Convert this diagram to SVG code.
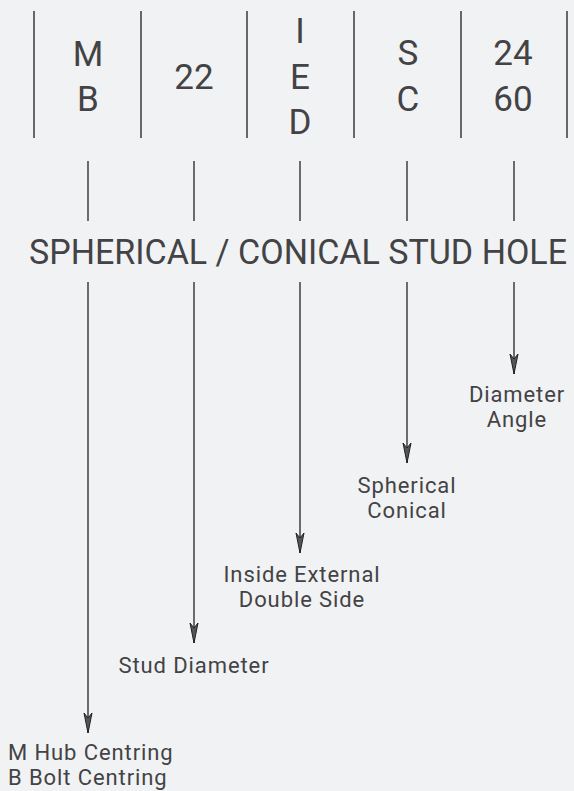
<svg xmlns="http://www.w3.org/2000/svg" width="574" height="791" viewBox="0 0 574 791">
<style>
.t{font-family:Roboto,"DejaVu Sans",sans-serif;fill:#434345;text-anchor:middle}
.big{font-size:35px}
.lab{font-size:22px;letter-spacing:0.9px}
.head{font-size:35px}
.div{stroke:#444;stroke-width:1.6}
.ln{stroke:#333;stroke-width:1.4;fill:none}
</style>
<defs>
<marker id="arr" viewBox="0 0 22 10" refX="21" refY="5" markerWidth="22" markerHeight="10" markerUnits="userSpaceOnUse" orient="auto">
<path d="M1,1 L21,5 L1,9 L6,5 Z" fill="#555" stroke="#222" stroke-width="1"/>
</marker>
</defs>
<rect width="574" height="791" fill="#f1f2f4"/>
<g id="dividers">
<line class="div" x1="34" y1="11" x2="34" y2="138"/>
<line class="div" x1="141" y1="11" x2="141" y2="138"/>
<line class="div" x1="247" y1="11" x2="247" y2="138"/>
<line class="div" x1="354" y1="11" x2="354" y2="138"/>
<line class="div" x1="461" y1="11" x2="461" y2="138"/>
<line class="div" x1="567" y1="11" x2="567" y2="138"/>
</g>
<g id="code-MB"><text class="t big" x="88" y="66">M</text><text class="t big" x="88" y="111">B</text></g>
<g id="code-22"><text class="t big" x="194" y="89">22</text></g>
<g id="code-IED"><text class="t big" x="300" y="43">I</text><text class="t big" x="300" y="89">E</text><text class="t big" x="300" y="134">D</text></g>
<g id="code-SC"><text class="t big" x="408" y="65">S</text><text class="t big" x="408" y="111">C</text></g>
<g id="code-2460"><text class="t big" x="513" y="65">24</text><text class="t big" x="513" y="111">60</text></g>
<g id="title"><text class="t head" x="298" y="264" textLength="538" lengthAdjust="spacingAndGlyphs">SPHERICAL / CONICAL STUD HOLE</text></g>
<g id="connectors">
<line class="ln" x1="88" y1="161" x2="88" y2="221"/>
<line class="ln" x1="194" y1="161" x2="194" y2="221"/>
<line class="ln" x1="300" y1="161" x2="300" y2="221"/>
<line class="ln" x1="407" y1="161" x2="407" y2="221"/>
<line class="ln" x1="514" y1="161" x2="514" y2="221"/>
<line class="ln" x1="88" y1="282" x2="88" y2="733" marker-end="url(#arr)"/>
<line class="ln" x1="194" y1="282" x2="194" y2="643" marker-end="url(#arr)"/>
<line class="ln" x1="300" y1="282" x2="300" y2="553" marker-end="url(#arr)"/>
<line class="ln" x1="407" y1="282" x2="407" y2="463" marker-end="url(#arr)"/>
<line class="ln" x1="514" y1="282" x2="514" y2="374" marker-end="url(#arr)"/>
</g>
<g id="label-angle"><text class="t lab" x="517" y="402">Diameter</text><text class="t lab" x="517" y="427">Angle</text></g>
<g id="label-shape"><text class="t lab" x="407" y="493">Spherical</text><text class="t lab" x="407" y="518">Conical</text></g>
<g id="label-side"><text class="t lab" x="302" y="582">Inside External</text><text class="t lab" x="302" y="607">Double Side</text></g>
<g id="label-stud"><text class="t lab" x="194" y="673">Stud Diameter</text></g>
<g id="label-centring"><text class="t lab" x="8" y="760" style="text-anchor:start">M Hub Centring</text><text class="t lab" x="8" y="785" style="text-anchor:start">B Bolt Centring</text></g>
</svg>
